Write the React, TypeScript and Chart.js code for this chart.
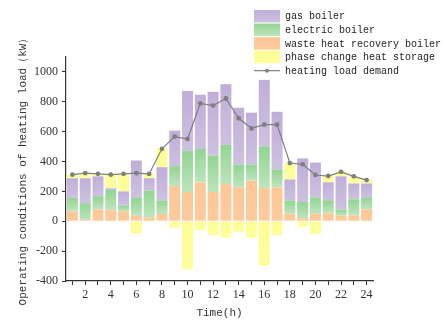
import React, { useEffect, useRef } from "react";
import { Chart, registerables } from "chart.js";

Chart.register(...registerables);

const hours = ["1","2","3","4","5","6","7","8","9","10","11","12","13","14","15","16","17","18","19","20","21","22","23","24"];
const wasteHeat = [67, 10, 79, 73, 67, 36, 27, 49, 236, 196, 260, 196, 249, 227, 273, 222, 227, 51, 21, 50, 54, 37, 39, 80];
const electric = [89, 111, 89, 136, 38, 120, 180, 91, 133, 275, 224, 244, 262, 153, 105, 280, 120, 89, 108, 110, 87, 42, 108, 76];
const gas = [132, 167, 133, 12, 95, 251, 81, 222, 238, 402, 363, 427, 407, 380, 349, 445, 386, 140, 292, 233, 120, 222, 106, 97];
const phaseChange = [26, 35, 16, 93, 118, -84, 31, 127, -44, -324, -58, -93, -107, -71, -111, -298, -93, 113, -38, -84, 44, 35, 47, 27];
const loadDemand = [312, 322, 318, 312, 318, 322, 317, 485, 567, 551, 789, 775, 822, 690, 622, 647, 647, 390, 381, 310, 303, 331, 301, 276];

const seriesNames = {
  gas: "gas boiler",
  electric: "electric boiler",
  waste: "waste heat recovery boiler",
  phase: "phase change heat storage",
  load: "heating load demand",
};

// stacking order bottom -> top
const stackSeries = [wasteHeat, electric, gas, phaseChange];
const colorsTop = ["#fdc796", "#93d493", "#c0aed8", "#fdfd93"];
const colorsBottom = ["#fecb9e", "#bde5bd", "#cdc1e1", "#fefe9e"];

const MONO = "'Liberation Mono', 'DejaVu Sans Mono', monospace";
const SERIF = "'Liberation Serif', 'DejaVu Serif', serif";

function segmentGradient(stackIdx: number) {
  return (ctx: any) => {
    const chart = ctx.chart;
    const scales = chart.scales;
    if (!scales || !scales.y || !chart.chartArea || ctx.type !== "data") return colorsTop[stackIdx];
    const i = ctx.dataIndex;
    const v = stackSeries[stackIdx][i];
    let base = 0;
    if (v >= 0) {
      for (let k = 0; k < stackIdx; k++) {
        const w = stackSeries[k][i];
        if (w > 0) base += w;
      }
    }
    const y1 = scales.y.getPixelForValue(Math.max(base, base + v));
    const y2 = scales.y.getPixelForValue(Math.min(base, base + v));
    if (!isFinite(y1) || !isFinite(y2) || Math.abs(y2 - y1) < 1) return colorsTop[stackIdx];
    const g = chart.ctx.createLinearGradient(0, y1, 0, y2);
    g.addColorStop(0, colorsTop[stackIdx]);
    g.addColorStop(1, colorsBottom[stackIdx]);
    return g;
  };
}

const legendPlugin = {
  id: "customLegend",
  afterDraw(chart: any) {
    const c = chart.ctx as CanvasRenderingContext2D;
    const items = [
      { label: seriesNames.gas, idx: 2 },
      { label: seriesNames.electric, idx: 1 },
      { label: seriesNames.waste, idx: 0 },
      { label: seriesNames.phase, idx: 3 },
      { label: seriesNames.load, idx: -1 },
    ];
    const x0 = 254, y0 = 10, bw = 26, bh = 12.5, pitch = 13.6;
    c.save();
    c.font = "10px " + MONO;
    c.textBaseline = "middle";
    c.textAlign = "left";
    items.forEach((it, r) => {
      const top = y0 + r * pitch;
      const cy = top + bh / 2;
      if (it.idx >= 0) {
        const g = c.createLinearGradient(0, top, 0, top + bh);
        g.addColorStop(0, colorsTop[it.idx]);
        g.addColorStop(1, colorsBottom[it.idx]);
        c.fillStyle = g;
        c.fillRect(x0, top, bw, bh);
      } else {
        c.strokeStyle = "#7f7f7f";
        c.lineWidth = 1.2;
        c.beginPath();
        c.moveTo(x0, cy);
        c.lineTo(x0 + bw, cy);
        c.stroke();
        c.fillStyle = "#7f7f7f";
        c.beginPath();
        c.arc(x0 + bw / 2, cy, 2, 0, Math.PI * 2);
        c.fill();
      }
      c.fillStyle = "#222";
      c.fillText(it.label, x0 + bw + 5, cy + 0.5);
    });
    c.restore();
  },
};

export default function App() {
  const ref = useRef<HTMLCanvasElement | null>(null);
  useEffect(() => {
    if (!ref.current) return;
    const chart = new Chart(ref.current, {
      type: "bar",
      data: {
        labels: hours,
        datasets: [
          {
            type: "line",
            label: seriesNames.load,
            data: loadDemand,
            borderColor: "#7f7f7f",
            backgroundColor: "#7f7f7f",
            borderWidth: 1.2,
            pointRadius: 2.4,
            pointBorderWidth: 0,
            pointBackgroundColor: "#7f7f7f",
            stack: "load",
          } as any,
          { label: seriesNames.waste, data: wasteHeat, backgroundColor: segmentGradient(0), stack: "s" },
          { label: seriesNames.electric, data: electric, backgroundColor: segmentGradient(1), stack: "s" },
          { label: seriesNames.gas, data: gas, backgroundColor: segmentGradient(2), stack: "s" },
          { label: seriesNames.phase, data: phaseChange, backgroundColor: segmentGradient(3), stack: "s" },
        ],
      },
      options: {
        animation: false,
        responsive: false,
        maintainAspectRatio: false,
        layout: { padding: { left: 16, top: 57, right: 73, bottom: 0 } },
        datasets: {
          bar: { categoryPercentage: 1, barPercentage: 0.86, borderWidth: 0 },
        },
        plugins: {
          legend: { display: false },
          tooltip: { enabled: false },
        },
        scales: {
          x: {
            stacked: true,
            grid: {
              display: true,
              drawOnChartArea: false,
              drawTicks: true,
              tickLength: 4,
              tickColor: "#333",
              offset: false,
            },
            border: { display: true, color: "#333", width: 1.2 },
            ticks: {
              color: "#333",
              font: { family: SERIF, size: 12 },
              padding: 3,
              autoSkip: false,
              maxRotation: 0,
              callback: (_v: any, i: number) => (Number(hours[i]) % 2 === 0 ? hours[i] : ""),
            },
            title: {
              display: true,
              text: "Time(h)",
              color: "#333",
              font: { family: MONO, size: 11 },
              padding: { top: 2, bottom: 0 },
            },
            afterFit: (scale: any) => {
              scale.height = 39;
            },
          },
          y: {
            stacked: true,
            min: -400,
            max: 1100,
            grid: {
              display: true,
              drawOnChartArea: false,
              drawTicks: true,
              tickLength: 4,
              tickColor: "#333",
            },
            border: { display: true, color: "#333", width: 1.2 },
            ticks: {
              stepSize: 100,
              color: "#333",
              font: { family: SERIF, size: 12 },
              padding: 4,
              callback: (v: any) => (Number(v) % 200 === 0 && Number(v) <= 1000 ? String(v) : ""),
            },
            title: {
              display: true,
              text: "Operating conditions of heating load（kW）",
              color: "#333",
              font: { family: MONO, size: 11 },
              padding: { top: 0, bottom: 2 },
            },
            afterFit: (scale: any) => {
              scale.width = 50;
            },
          },
        },
      } as any,
      plugins: [legendPlugin],
    });
    return () => chart.destroy();
  }, []);
  return (
    <div style={{ position: "fixed", left: 0, top: 0, width: 446, height: 320, background: "#fff" }}>
      <canvas ref={ref} width={446} height={320} style={{ display: "block" }} />
    </div>
  );
}
